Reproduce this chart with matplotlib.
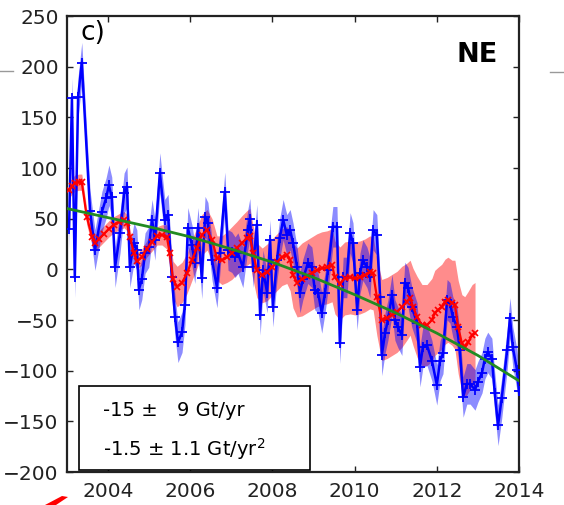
import matplotlib
matplotlib.use("Agg")
from matplotlib import pyplot as plt
from matplotlib.patches import Rectangle, Polygon
from matplotlib.lines import Line2D
import numpy as np

# blue series (monthly), decimal years and Gt
blue_t = [2003.05, 2003.12, 2003.19, 2003.27, 2003.36, 2003.56, 2003.68, 2003.85, 2003.95,
          2004.02, 2004.09, 2004.17, 2004.29, 2004.39, 2004.46, 2004.53, 2004.63, 2004.70,
          2004.75, 2004.82, 2004.90, 2004.99, 2005.07, 2005.14, 2005.26, 2005.38, 2005.46,
          2005.55, 2005.63, 2005.70, 2005.80, 2005.87, 2005.94, 2006.04, 2006.11, 2006.19,
          2006.28, 2006.36, 2006.43, 2006.53, 2006.65, 2006.72, 2006.84, 2006.92, 2007.01,
          2007.09, 2007.16, 2007.28, 2007.40, 2007.45, 2007.53, 2007.62, 2007.70, 2007.77,
          2007.87, 2007.94, 2008.01, 2008.11, 2008.18, 2008.26, 2008.35, 2008.43, 2008.50,
          2008.60, 2008.67, 2008.74, 2008.86, 2008.96, 2009.03, 2009.11, 2009.20, 2009.28,
          2009.35, 2009.47, 2009.57, 2009.64, 2009.72, 2009.81, 2009.89, 2009.96, 2010.06,
          2010.13, 2010.20, 2010.30, 2010.37, 2010.45, 2010.54, 2010.62, 2010.66, 2010.74,
          2010.81, 2010.91, 2010.98, 2011.05, 2011.15, 2011.22, 2011.30, 2011.39, 2011.52,
          2011.59, 2011.66, 2011.76, 2011.88, 2012.00, 2012.08, 2012.15, 2012.25, 2012.32,
          2012.39, 2012.49, 2012.56, 2012.64, 2012.73, 2012.81, 2012.93, 2013.00, 2013.10,
          2013.17, 2013.24, 2013.34, 2013.41, 2013.49, 2013.58, 2013.71, 2013.78, 2013.85,
          2013.95, 2014.00]
blue_v = [40, 169, -8, 170, 204, 58, 19, 57, 70,
          83, 71, 2, 36, 75, 81, 2, 26, 19,
          -20, -10, 16, 22, 49, 29, 95, 49, 54,
          -8, -47, -72, -62, -35, 41, 24, 6, 41,
          -9, 52, 46, 9, -18, 16, 76, 19, 17,
          12, 16, 2, 39, 50, 2, 44, -45, -1,
          -23, 29, -37, 9, 31, 49, 34, 39, 26,
          2, -23, -10, 6, 2, -20, -23, -43, -23,
          -1, 42, 42, -73, -8, -8, 36, 26, -40,
          -4, 9, 2, -8, 39, 34, -27, -85, -63,
          -50, -25, -50, -57, -65, -13, -18, -37, -53,
          -96, -77, -75, -90, -114, -90, -83, -30, -33,
          -47, -57, -80, -126, -113, -113, -119, -111, -102,
          -88, -82, -88, -122, -154, -127, -80, -48, -77,
          -99, -120]
blue_err = 20

# red series
red_t = [2003.05, 2003.12, 2003.19, 2003.29, 2003.36, 2003.48, 2003.61, 2003.68, 2003.78,
         2003.90, 2004.02, 2004.14, 2004.27, 2004.39, 2004.46, 2004.53, 2004.63, 2004.70,
         2004.82, 2004.94, 2005.07, 2005.19, 2005.31, 2005.43, 2005.50, 2005.58, 2005.68,
         2005.80, 2005.92, 2006.04, 2006.16, 2006.28, 2006.41, 2006.53, 2006.65, 2006.77,
         2006.89, 2007.01, 2007.13, 2007.26, 2007.38, 2007.45, 2007.53, 2007.62, 2007.75,
         2007.87, 2007.99, 2008.11, 2008.23, 2008.35, 2008.43, 2008.50, 2008.60, 2008.72,
         2008.84, 2008.96, 2009.08, 2009.20, 2009.33, 2009.45, 2009.52, 2009.64, 2009.76,
         2009.89, 2010.01, 2010.13, 2010.25, 2010.37, 2010.45, 2010.54, 2010.66, 2010.79,
         2010.91, 2011.03, 2011.15, 2011.27, 2011.35, 2011.42, 2011.52, 2011.64, 2011.76,
         2011.88, 2011.95, 2012.03, 2012.12, 2012.20, 2012.27, 2012.37, 2012.44, 2012.52,
         2012.61, 2012.68, 2012.76, 2012.86, 2012.93]
red_v = [78, 82, 85, 86, 86, 52, 32, 26, 30,
         35, 40, 44, 47, 49, 46, 32, 16, 8,
         12, 20, 27, 33, 34, 32, 16, -10, -17,
         -13, -4, 9, 21, 34, 39, 29, 11, 9,
         12, 16, 21, 26, 31, 33, 16, -1, -6,
         -3, 2, 7, 12, 14, 9, -6, -13, -10,
         -7, -4, -1, 1, 2, 4, -8, -14, -9,
         -8, -9, -8, -6, -3, -4, -27, -50, -48,
         -45, -42, -37, -32, -28, -37, -47, -55, -55,
         -50, -43, -40, -37, -32, -30, -33, -35, -57,
         -73, -77, -72, -65, -63]
red_err = [8, 8, 8, 8, 8, 8, 8, 8, 8,
           8, 8, 8, 8, 8, 8, 8, 8, 8,
           8, 8, 9, 9, 10, 12, 15, 18, 20,
           20, 20, 20, 20, 20, 20, 21, 22, 24,
           25, 26, 26, 27, 27, 27, 27, 27, 27,
           28, 28, 28, 28, 28, 30, 32, 34, 36,
           36, 36, 36, 36, 36, 36, 36, 36, 36,
           36, 36, 36, 36, 36, 36, 38, 40, 40,
           40, 40, 40, 38, 37, 38, 40, 40, 40,
           41, 42, 42, 42, 42, 42, 42, 44, 46,
           48, 50, 50, 50, 50]

# fitted trend curve, yearly values
fit_t = [2003, 2004, 2005, 2006, 2007, 2008, 2009, 2010, 2011, 2012, 2013, 2014]
fit_v = [60, 51, 42, 32, 20, 7, -8, -25, -43, -63, -85, -110]

xticks = [2004, 2006, 2008, 2010, 2012, 2014]
yticks = [-200, -150, -100, -50, 0, 50, 100, 150, 200, 250]

fig = plt.figure(figsize=(5.64, 5.05), dpi=100)
ax = fig.add_axes([67/564, 1 - 472/505, 452/564, 456/505])

bt = np.array(blue_t)
bv = np.array(blue_v)
rt = np.array(red_t)
rv = np.array(red_v)
re = np.array(red_err)

ax.fill_between(rt, rv - re, rv + re, color="#ff1a1a", alpha=0.5, lw=0, zorder=1)
ax.fill_between(bt, bv - blue_err, bv + blue_err, color="#0000ff", alpha=0.45, lw=0, zorder=2)
ax.plot(bt, bv, color="#0000ff", lw=1.8, marker="+", ms=7, mew=1.3, zorder=3)
ax.plot(rt, rv, color="#ff0000", lw=1.6, marker="x", ms=4.5, mew=1.2, zorder=4)
ax.plot(fit_t, fit_v, color="#228b22", lw=2, zorder=5)

ax.set_xlim(2003, 2014)
ax.set_ylim(-200, 250)
ax.set_xticks(xticks)
ax.set_yticks(yticks)
ax.tick_params(direction="in", length=4, width=1, top=True, right=True,
               labelsize=14.5, colors="#222222")
ax.tick_params(axis="x", pad=7)
ax.tick_params(axis="y", pad=6)
for s in ax.spines.values():
    s.set_linewidth(1.6)
    s.set_color("#222222")

ax.text(0.029, 0.992, "c)", transform=ax.transAxes, fontsize=19, va="top", ha="left")
ax.text(0.952, 0.942, "NE", transform=ax.transAxes, fontsize=19.5, fontweight="bold",
        va="top", ha="right")

ax.add_patch(Rectangle((0.0265, 0.0044), 0.512, 0.185, transform=ax.transAxes,
                       facecolor="white", edgecolor="black", lw=1.2, zorder=6))
ax.text(0.08, 0.134, "-15 \u00b1", transform=ax.transAxes, fontsize=14,
        va="center", ha="left", zorder=7)
ax.text(0.243, 0.134, "9 Gt/yr", transform=ax.transAxes, fontsize=14,
        va="center", ha="left", zorder=7)
ax.text(0.08, 0.05, "-1.5 \u00b1 1.1 Gt/yr$^2$", transform=ax.transAxes, fontsize=14,
        va="center", ha="left", zorder=7)

# bits of neighbouring panels at the edges
fig.add_artist(Line2D([0, 13/564], [1 - 71/505, 1 - 71/505], color="#999999", lw=1))
fig.add_artist(Line2D([550/564, 1], [1 - 72/505, 1 - 72/505], color="#999999", lw=1))
fig.add_artist(Polygon([(45/564, 0), (62/564, 9/505), (68/564, 8/505), (56/564, 0)],
                       closed=True, color="#ff0000", lw=0))

fig.savefig("out.png", dpi=100)
